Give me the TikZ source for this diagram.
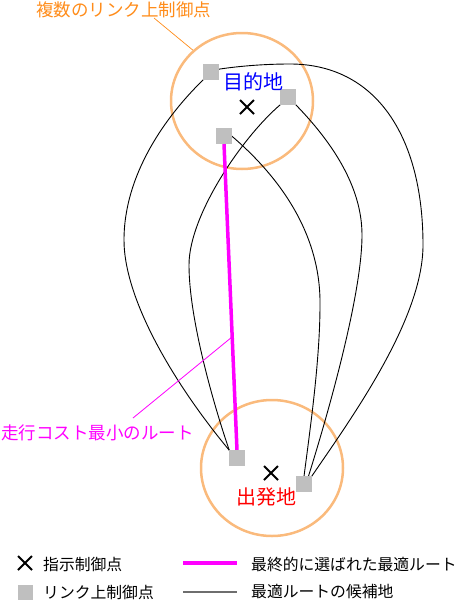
\documentclass[tikz,border=0pt]{standalone}
\usepackage{fontspec}
\setmainfont{Noto Sans CJK JP}
\usetikzlibrary{shapes.geometric, shapes.misc, positioning}

\definecolor{ringorange}{RGB}{250,186,124}
\definecolor{labelorange}{RGB}{255,140,26}
\definecolor{linkgray}{RGB}{191,191,191}
\definecolor{legendgray}{RGB}{110,110,110}
\definecolor{routepink}{RGB}{255,0,255}

\begin{document}
\begin{tikzpicture}[
    x=1pt, y=-1pt,
    ring/.style={draw=ringorange, line width=2.5pt, ellipse, minimum width=142pt, minimum height=136pt, inner sep=0pt},
    linkpt/.style={fill=linkgray, rectangle, minimum size=15pt, inner sep=0pt},
    spot/.style={draw, cross out, minimum size=12pt, inner sep=0pt, line width=2pt},
    candidate/.style={draw=black, line width=0.9pt},
    bestroute/.style={draw=routepink, line width=3.5pt},
    place/.style={inner sep=0pt, font=\fontsize{20}{24}\selectfont},
    lbl/.style={inner sep=0pt, anchor=west, font=\fontsize{17.5}{20}\selectfont},
    legendtxt/.style={inner sep=0pt, anchor=west, font=\fontsize{15.8}{19}\selectfont}
]
    \useasboundingbox (0,0) rectangle (457,600);

    % --- Areas around the two points ---
    \node[ring] (dstring) at (242,101) {};
    \node[ring] (orgring) at (272,468) {};

    % --- Link control points ---
    \node[linkpt] (sqa) at (211,72) {};
    \node[linkpt] (sqb) at (288,97) {};
    \node[linkpt] (sqc) at (224,136) {};
    \node[linkpt] (sqbl) at (237,458) {};
    \node[linkpt] (sqbr) at (304,484) {};

    % widest points of the candidate routes
    \coordinate (aw) at (124,240);
    \coordinate (bw) at (189,265);
    \coordinate (cw) at (362,235);
    \coordinate (dw) at (320,305);
    \coordinate (etop) at (290,64);
    \coordinate (ew) at (423,245);

    % --- Candidate routes ---
    \draw[candidate] (sqa.south west) .. controls (165,117) and (124,175) .. (aw)
        .. controls (124,300) and (175,385) .. (sqbl.north west);
    \draw[candidate] (sqb.south west) .. controls (242.5,137) and (189,215) .. (bw)
        .. controls (189,320) and (214.7,408) .. (sqbl.north west);
    \draw[candidate] (sqc.east) .. controls (275,173) and (321,230) .. (dw)
        .. controls (320,360) and (310,430) .. (sqbr.north);
    \draw[candidate] (sqb.south east) .. controls (330,140) and (362,185) .. (cw)
        .. controls (362,300) and (321.8,433.7) .. (sqbr.60);
    \draw[candidate] (sqa.20) .. controls (240,66) and (265,64) .. (etop)
        .. controls (375,64) and (423,135) .. (ew)
        .. controls (423,320) and (350,420) .. (sqbr.north east);

    % --- Final route ---
    \draw[bestroute] (sqc.south) -- (sqbl.north);

    % squares on top of the lines
    \foreach \s in {sqa,sqb,sqc,sqbl,sqbr}
        \fill[linkgray] (\s.south west) rectangle (\s.north east);

    % --- Destination / origin ---
    \node[spot] (dst) at (247,107) {};
    \node[place, text=blue] (dstname) at (253,82) {目的地};
    \node[spot] (org) at (271,473) {};
    \node[place, text=red] (orgname) at (266,497) {出発地};

    % --- Annotations ---
    \node[lbl, text=labelorange] (multilbl) at (36,10) {複数のリンク上制御点};
    \coordinate (multitip) at (154,18);
    \draw[labelorange, line width=0.7pt] (multitip) -- (dstring.134);

    \node[lbl, text=routepink] (routelbl) at (1,433) {走行コスト最小のルート};
    \coordinate (routetip) at (133,418);
    \coordinate (routeon) at (232,337);
    \draw[routepink, line width=0.8pt] (routetip) -- (routeon);

    % --- Legend ---
    \node[spot] (legx) at (25,563) {};
    \node[legendtxt] (legxtxt) at (43,564) {指示制御点};
    \node[linkpt] (legsq) at (25,592) {};
    \node[legendtxt] (legsqtxt) at (43,592) {リンク上制御点};

    \coordinate (legma) at (183,563);
    \coordinate (legmb) at (237,563);
    \draw[routepink, line width=3.3pt] (legma) -- (legmb);
    \node[legendtxt] (legmtxt) at (251,564) {最終的に選ばれた最適ルート};
    \coordinate (legga) at (183,592);
    \coordinate (leggb) at (237,592);
    \draw[legendgray, line width=2pt] (legga) -- (leggb);
    \node[legendtxt] (leggtxt) at (251,592) {最適ルートの候補地};
\end{tikzpicture}
\end{document}
